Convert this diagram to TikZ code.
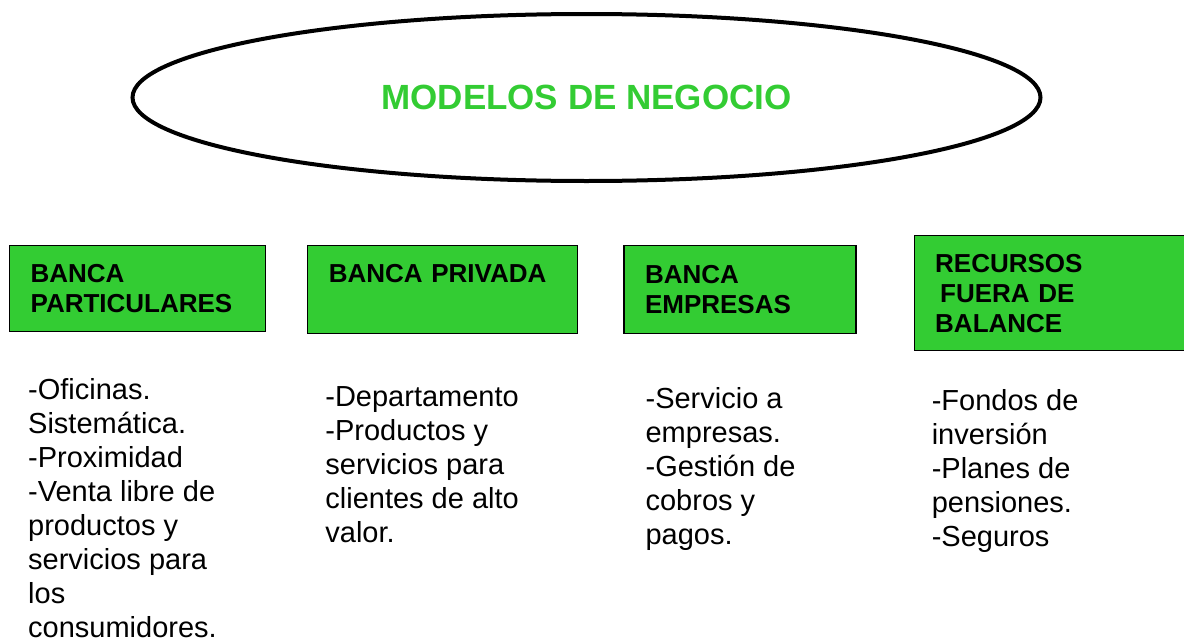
\documentclass[tikz,border=0pt]{standalone}
\usepackage{fontspec}
\setmainfont{Liberation Sans}
\usepackage{xcolor}
\usepackage{tikz}
\usetikzlibrary{shapes.geometric}
\usetikzlibrary{positioning}
\definecolor{verde}{HTML}{33CC33}

\begin{document}
\begin{tikzpicture}[x=1pt, y=-1pt,
		modelo/.style={draw=black, line width=1.2pt, fill=verde, rectangle, align=left, inner xsep=21pt, inner ysep=0pt, font=\fontsize{26}{30}\selectfont\bfseries},
		lista/.style={align=left, inner sep=0pt, font=\fontsize{29}{34}\selectfont}]
			\useasboundingbox (0,0) rectangle (1184,640);
			\node[ellipse, draw, line width=4pt, minimum width=908pt, minimum height=167pt, inner sep=0pt, text=verde, font=\fontsize{35}{40}\selectfont\bfseries] (mn) at (586.5,97.5) {MODELOS DE NEGOCIO};
			\node[modelo, text width=214pt, minimum height=86pt, anchor=north west] (bp) at (9,245) {BANCA\\PARTICULARES};
			\node[modelo, text width=228pt, minimum height=88pt, text depth=33pt, right=41pt of bp.north east, anchor=north west] (bpr) {BANCA PRIVADA};
			\node[modelo, text width=190pt, minimum height=88pt, right=45pt of bpr.north east, anchor=north west] (be) {BANCA\\EMPRESAS};
			\node[modelo, text width=233pt, minimum height=115pt, above right=10pt and 57pt of be.north east, anchor=north west] (brf) {RECURSOS\\\hspace*{5pt}FUERA DE\\BALANCE};
			\node[lista, below right=46pt and 19pt of bp.south west] (lp) {-Oficinas.\\Sistemática.\\-Proximidad\\-Venta libre de\\productos y\\servicios para\\los\\consumidores.};
			\node[lista, below right=52pt and 18pt of bpr.south west] (lpr) {-Departamento\\-Productos y\\servicios para\\clientes de alto\\valor.};
			\node[lista, below right=53pt and 22pt of be.south west] (le) {-Servicio a\\empresas.\\-Gestión de\\cobros y\\pagos.};
			\node[lista, below right=38pt and 18pt of brf.south west] (lrf) {-Fondos de\\inversión\\-Planes de\\pensiones.\\-Seguros};
		\end{tikzpicture}
\end{document}
